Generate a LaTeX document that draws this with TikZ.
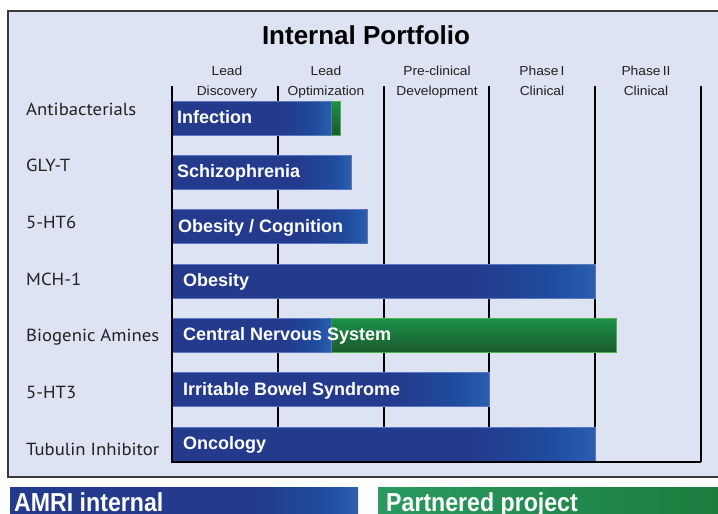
\documentclass[tikz,border=0pt]{standalone}
\usepackage{fontspec}
\setmainfont{Liberation Sans}
\newfontfamily\rowfont[FakeStretch=1.07]{PT Sans}
\newfontfamily\hdrfont[FakeStretch=1.06]{Liberation Sans}
\newfontfamily\legfont[FakeStretch=0.89]{Liberation Sans}
\definecolor{panel}{HTML}{DDE3F2}
\definecolor{boxline}{HTML}{3A3A3A}
\definecolor{bdark}{HTML}{243A8C}
\definecolor{bmid}{HTML}{1F4C9F}
\definecolor{blight}{HTML}{2A5FAF}
\definecolor{gtop}{HTML}{1A9149}
\definecolor{gbot}{HTML}{1A5A2C}
\definecolor{gleft}{HTML}{2A9A60}
\definecolor{gright}{HTML}{1C7A3C}
\definecolor{txt}{HTML}{222222}
\definecolor{bedge}{HTML}{5A78BE}
\pgfdeclarehorizontalshading{bluebarsh}{100bp}{color(0bp)=(bdark); color(25bp)=(bdark); color(60bp)=(bdark); color(70bp)=(bmid); color(75bp)=(blight); color(100bp)=(blight)}
\newcommand\portbar[5]{%
  \shade[shading=bluebarsh, draw=bedge, line width=0.5pt] (172,#2) rectangle (#3,#2+34);
  \node[barlabel, anchor=base west] (#1) at (#5,#2+22.5) {#4};
}
\begin{document}
\begin{tikzpicture}[x=1pt,y=-1pt,
  gridline/.style={black, line width=1.5pt},
  barlabel/.style={inner sep=0pt, text=white, font=\fontsize{18}{20}\selectfont\bfseries},
  rowlabel/.style={inner sep=0pt, anchor=base west, text=txt, font=\rowfont\fontsize{17.5}{20}\selectfont},
  hdrlabel/.style={inner sep=0pt, anchor=base, text=txt, align=center, font=\hdrfont\fontsize{13}{20}\selectfont},
  leglabel/.style={inner sep=0pt, anchor=base west, text=white, font=\legfont\fontsize{26}{30}\selectfont\bfseries}]
\useasboundingbox (0,0) rectangle (718,514);
\begin{scope}
\clip (0,0) rectangle (718,514);
\fill[white] (0,0) rectangle (718,514);
\draw[boxline, fill=panel, line width=1.2pt] (8,11) rectangle (740,477);
\node[inner sep=0pt, anchor=base, text=black, font=\fontsize{26}{30}\selectfont\bfseries] (title) at (366,45) {Internal Portfolio};
% column headers
\node[hdrlabel] (h1a) at (227,75.7) {Lead};
\node[hdrlabel] (h1b) at (227,95.7) {Discovery};
\node[hdrlabel] (h2a) at (326,75.7) {Lead};
\node[hdrlabel] (h2b) at (326,95.7) {Optimization};
\node[hdrlabel] (h3a) at (437,75.7) {Pre-clinical};
\node[hdrlabel] (h3b) at (437,95.7) {Development};
\node[hdrlabel] (h4a) at (542,75.7) {Phase\,I};
\node[hdrlabel] (h4b) at (542,95.7) {Clinical};
\node[hdrlabel] (h5a) at (646,75.7) {Phase\,II};
\node[hdrlabel] (h5b) at (646,95.7) {Clinical};
% grid lines
\foreach \x in {278,384,489,595,701} \draw[gridline] (\x,86) -- (\x,462);
% row labels
\node[rowlabel] (r1) at (26,115) {Antibacterials};
\node[rowlabel] (r2) at (26,171.7) {GLY-T};
\node[rowlabel] (r3) at (26,228.3) {5-HT6};
\node[rowlabel] (r4) at (26,285) {MCH-1};
\node[rowlabel] (r5) at (26,341.7) {Biogenic Amines};
\node[rowlabel] (r6) at (26,398.3) {5-HT3};
\node[rowlabel] (r7) at (26,455) {Tubulin Inhibitor};
% bars
\shade[top color=gtop, bottom color=gbot, draw=gray!60!green, line width=0.5pt] (331,101) rectangle (340,135);
\portbar{b1}{101}{331}{Infection}{177}
\portbar{b2}{155.3}{351}{Schizophrenia}{177}
\portbar{b3}{209.7}{367}{Obesity / Cognition}{178}
\portbar{b4}{264}{595}{Obesity}{183}
\shade[top color=gtop, bottom color=gbot, draw=gray!60!green, line width=0.5pt] (331,318.3) rectangle (616,352.3);
\portbar{b5}{318.3}{331}{Central Nervous\ System}{183}
\portbar{b6}{372.7}{489}{Irritable Bowel Syndrome}{183}
\portbar{b7}{427}{595}{Oncology}{183}
% left and bottom lines over bars
\draw[gridline] (172,86) -- (172,462) -- (701,462);
% legend
\shade[shading=bluebarsh] (10,487) rectangle (358,520);
\shade[left color=gleft, right color=gright] (378,487) rectangle (730,520);
\node[leglabel] (l1) at (14,511.5) {AMRI internal};
\node[leglabel] (l2) at (386,511.5) {Partnered project};
\end{scope}
\end{tikzpicture}
\end{document}
